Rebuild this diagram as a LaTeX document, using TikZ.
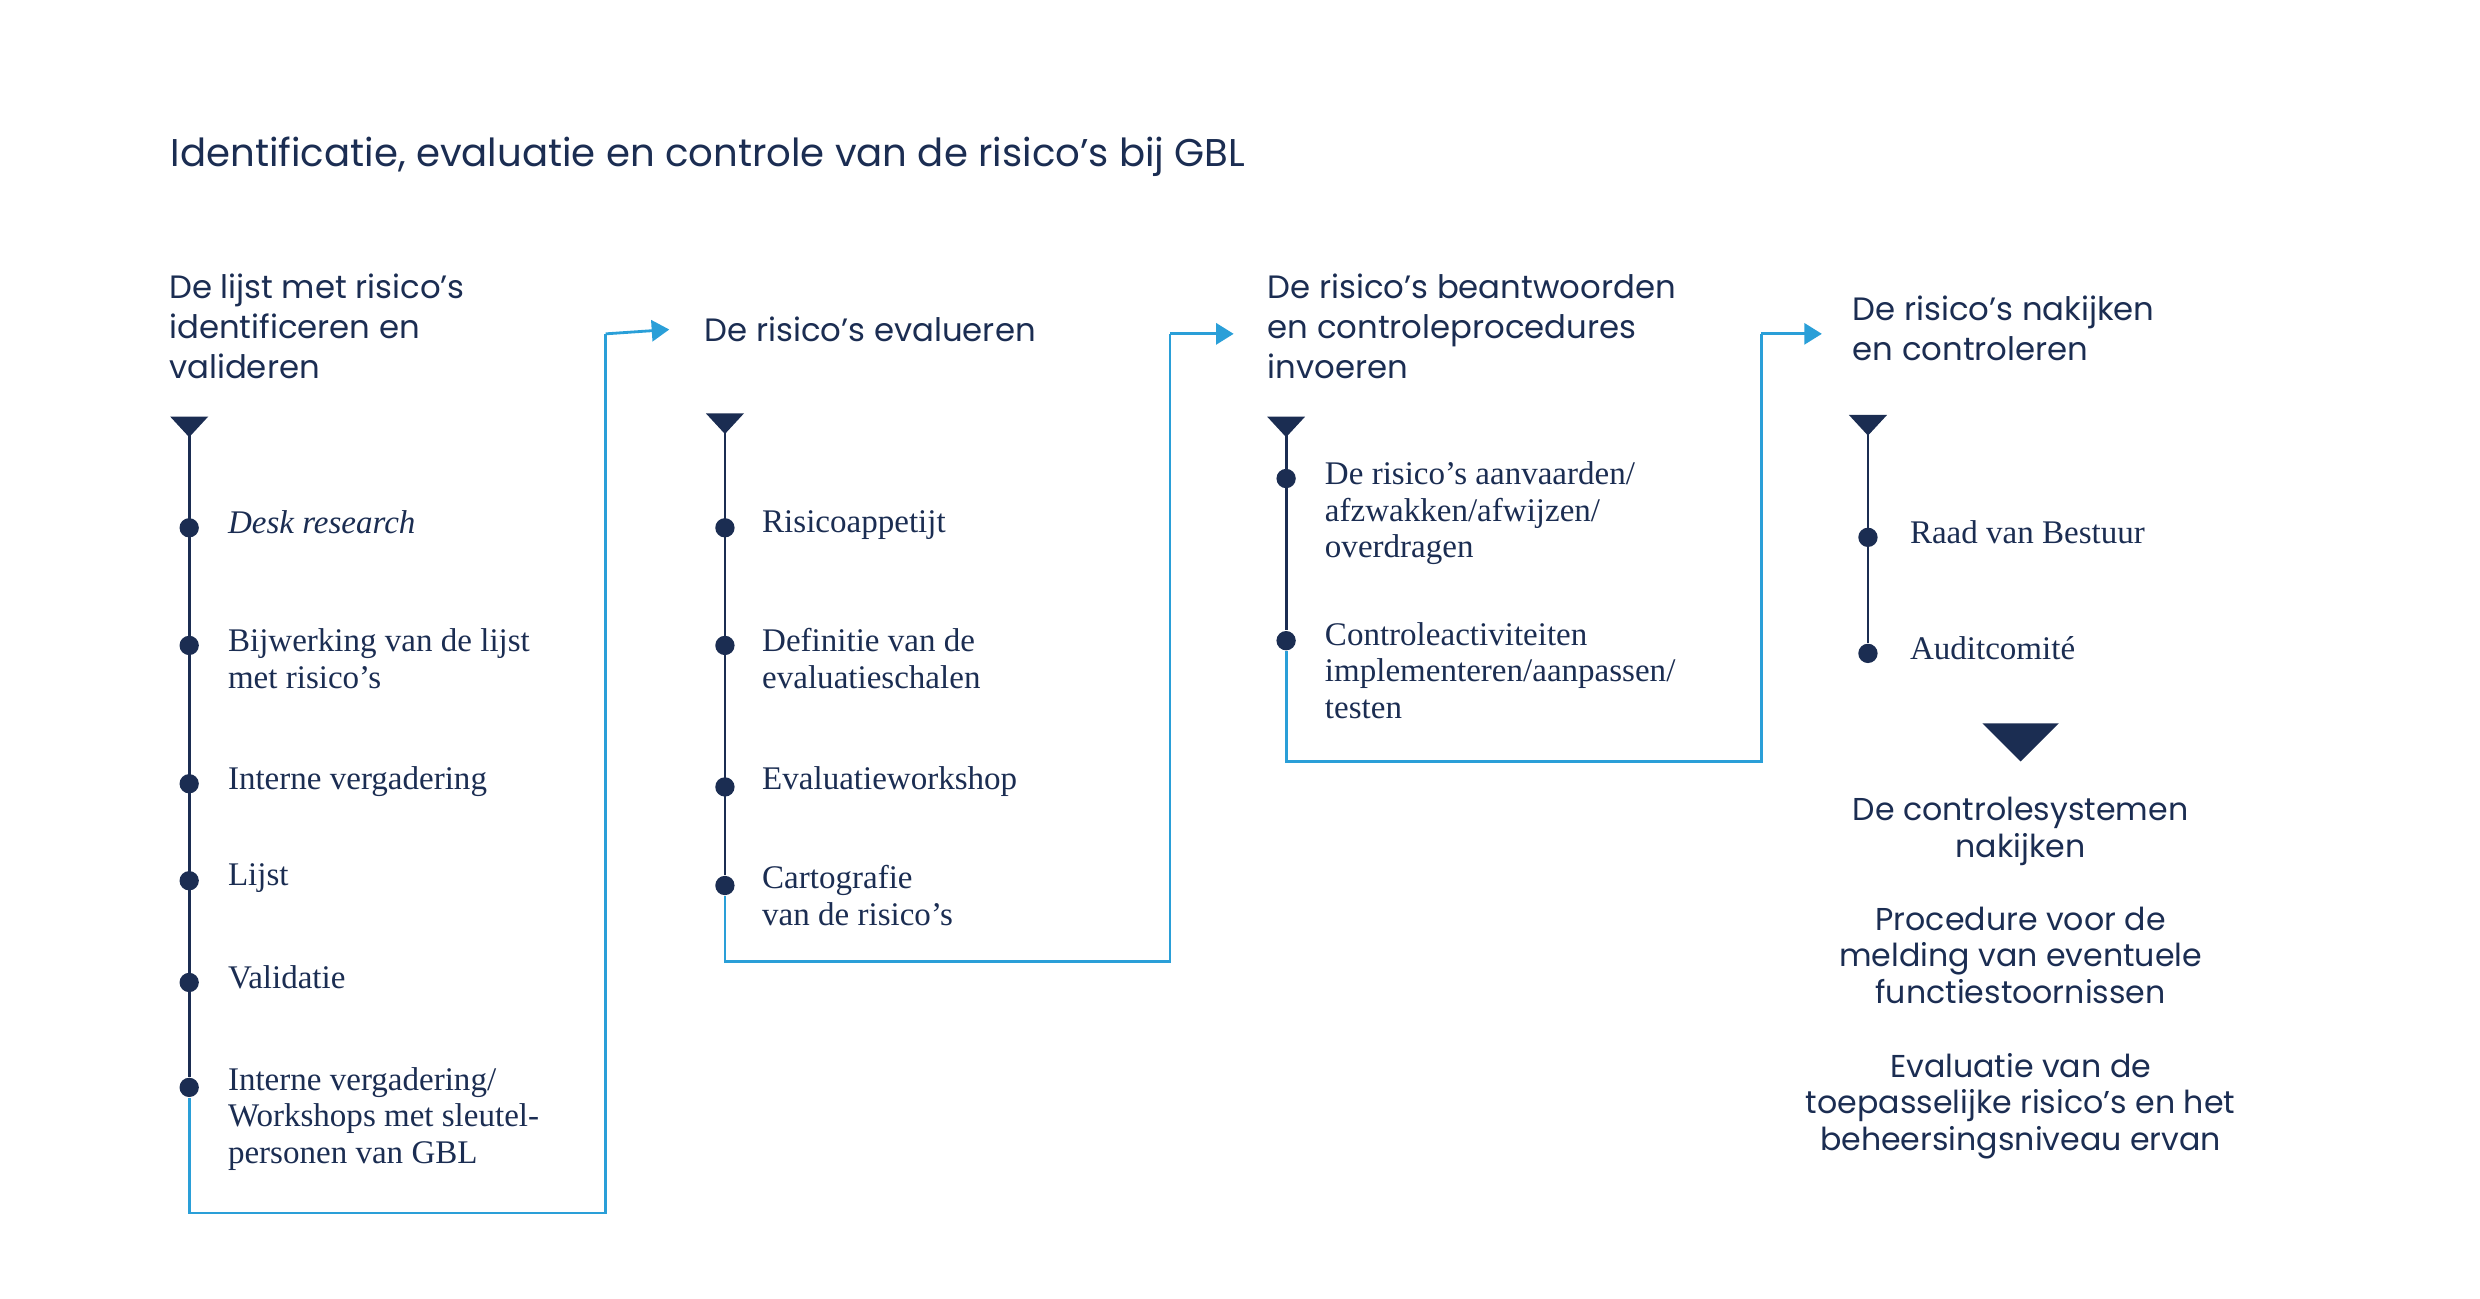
\documentclass[tikz,border=0pt]{standalone}
\usepackage{fontspec}
\setmainfont{Liberation Serif}
\newfontfamily\headfont{Poppins}
\usetikzlibrary{positioning, calc, arrows.meta}
\definecolor{navy}{HTML}{1B2D52}
\definecolor{lineblue}{HTML}{2A9FD8}

\begin{document}
\begin{tikzpicture}[x=0.0159cm, y=-0.0159cm]
    % Stijlen
    \tikzset{
        head_text/.style={anchor=north west, inner sep=0pt, align=left, text=navy,
            font=\headfont\fontsize{9.2}{11.3}\selectfont},
        item_text/.style={anchor=north west, inner sep=0pt, align=left, text=navy,
            font=\fontsize{9.4}{10.4}\selectfont},
        end_text/.style={anchor=north, inner sep=0pt, align=center, text=navy,
            font=\headfont\fontsize{9}{10.4}\selectfont},
        item_dot/.style={circle, fill=navy, inner sep=0pt, minimum size=5.5pt},
        navy_line/.style={navy, line width=0.8pt},
        link_line/.style={lineblue, line width=0.8pt},
        link_arrow/.style={lineblue, line width=0.8pt, -{Triangle[length=5pt, width=6pt]}}
    }
    \useasboundingbox (0,0) rectangle (1560,817);

    % Titel
    \node[anchor=north west, inner sep=0pt, text=navy, font=\headfont\fontsize{11}{13}\selectfont]
        (title) at (107,86) {Identificatie, evaluatie en controle van de risico’s bij GBL};

    % Kolom 1
    \node[head_text] (c1_head) at (106,172) {De lijst met risico’s\\identificeren en\\valideren};
    \fill[navy] (107,262) -- (131,262) -- (119,275) -- cycle;
    \coordinate (c1_top) at (119,270);
    \node[item_dot] (c1_dot1) at (119,332) {};
    \node[item_dot] (c1_dot2) at (119,406) {};
    \node[item_dot] (c1_dot3) at (119,493) {};
    \node[item_dot] (c1_dot4) at (119,554) {};
    \node[item_dot] (c1_dot5) at (119,618) {};
    \node[item_dot] (c1_dot6) at (119,684) {};
    \node[item_text] (c1_item1) at (143,321) {\textit{Desk research}};
    \node[item_text] (c1_item2) at (143,395) {Bijwerking van de lijst\\met risico’s};
    \node[item_text] (c1_item3) at (143,482) {Interne vergadering};
    \node[item_text] (c1_item4) at (143,543) {Lijst};
    \node[item_text] (c1_item5) at (143,607) {Validatie};
    \node[item_text] (c1_item6) at (143,671) {Interne vergadering/\\Workshops met sleutel-\\personen van GBL};
    \draw[navy_line] (c1_top) -- (c1_dot6);

    % Kolom 2
    \node[head_text] (c2_head) at (443,199) {De risico’s evalueren};
    \fill[navy] (444,260) -- (468,260) -- (456,273) -- cycle;
    \coordinate (c2_top) at (456,268);
    \node[item_dot] (c2_dot1) at (456,332) {};
    \node[item_dot] (c2_dot2) at (456,406) {};
    \node[item_dot] (c2_dot3) at (456,495) {};
    \node[item_dot] (c2_dot4) at (456,557) {};
    \node[item_text] (c2_item1) at (479,321) {Risicoappetijt};
    \node[item_text] (c2_item2) at (479,395) {Definitie van de\\evaluatieschalen};
    \node[item_text] (c2_item3) at (479,482) {Evaluatieworkshop};
    \node[item_text] (c2_item4) at (479,544) {Cartografie\\van de risico’s};
    \draw[navy_line] (c2_top) -- (c2_dot4);

    % Kolom 3
    \node[head_text] (c3_head) at (797,172) {De risico’s beantwoorden\\en controleprocedures\\invoeren};
    \fill[navy] (797,262) -- (821,262) -- (809,275) -- cycle;
    \coordinate (c3_top) at (809,270);
    \node[item_dot] (c3_dot1) at (809,301) {};
    \node[item_dot] (c3_dot2) at (809,403) {};
    \node[item_text] (c3_item1) at (833,290) {De risico’s aanvaarden/\\afzwakken/afwijzen/\\overdragen};
    \node[item_text] (c3_item2) at (833,391) {Controleactiviteiten\\implementeren/aanpassen/\\testen};
    \draw[navy_line] (c3_top) -- (c3_dot2);

    % Kolom 4
    \node[head_text] (c4_head) at (1165,186) {De risico’s nakijken\\en controleren};
    \fill[navy] (1163,261) -- (1187,261) -- (1175,274) -- cycle;
    \coordinate (c4_top) at (1175,268);
    \node[item_dot] (c4_dot1) at (1175,338) {};
    \node[item_dot] (c4_dot2) at (1175,411) {};
    \node[item_text] (c4_item1) at (1201,327) {Raad van Bestuur};
    \node[item_text] (c4_item2) at (1201,400) {Auditcomité};
    \draw[navy_line] (c4_top) -- (c4_dot2);
    \fill[navy] (1247,455) -- (1295,455) -- (1271,479) -- cycle;
    \node[end_text] (c4_end1) at (1271,501) {De controlesystemen\\nakijken};
    \node[end_text] (c4_end2) at (1271,570) {Procedure voor de\\melding van eventuele\\functiestoornissen};
    \node[end_text] (c4_end3) at (1271,662) {Evaluatie van de\\toepasselijke risico’s en het\\beheersingsniveau ervan};

    % Verbindingen tussen de kolommen
    \draw[link_line] (c1_dot6) -- (119,763) -- (381,763) -- (381,210);
    \draw[link_arrow] (381,210) -- ($(c2_head.west)+(-22,0)$);
    \draw[link_line] (c2_dot4) -- (456,605) -- (736,605) -- (736,210);
    \draw[link_arrow] (736,210) -- (776,210);
    \draw[link_line] (c3_dot2) -- (809,479) -- (1108,479) -- (1108,210);
    \draw[link_arrow] (1108,210) -- (1146,210);
\end{tikzpicture}
\end{document}
